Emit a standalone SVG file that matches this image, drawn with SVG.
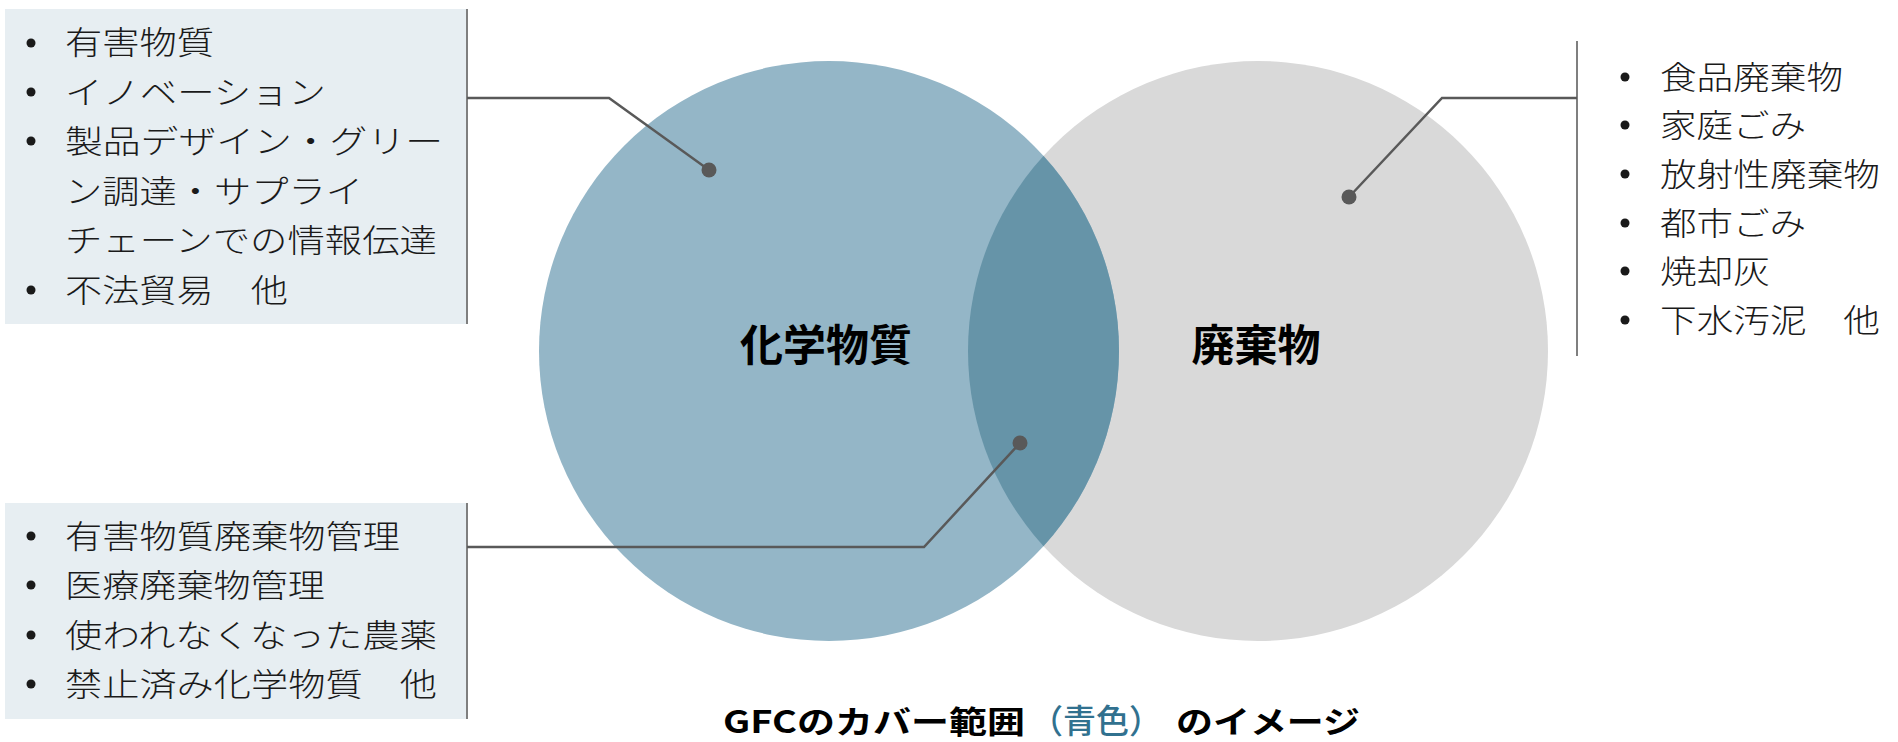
<svg xmlns="http://www.w3.org/2000/svg" width="1898" height="742" viewBox="0 0 1898 742">
<style>
.box{fill:#e7eef2}
.edge{stroke:#7f7f7f;stroke-width:2;fill:none}
.conn{stroke:#595959;stroke-width:2.5;fill:none}
.dot{fill:#595959}
.bul{fill:#1a1a1a}
.li{font-family:"Noto Sans CJK JP","Noto Sans",sans-serif;font-size:32px;fill:#1a1a1a;font-weight:300}
.lbl{font-family:"Noto Sans CJK JP","Noto Sans",sans-serif;font-size:43px;font-weight:bold;fill:#000;text-anchor:middle}
.cap{font-family:"Noto Sans CJK JP","Noto Sans",sans-serif;font-size:31px;font-weight:bold;fill:#000}
.capb{font-family:"Noto Sans CJK JP","Noto Sans",sans-serif;font-size:33px;font-weight:500;fill:#31718f;text-anchor:middle}
</style>
<defs>
<clipPath id="clipLeft"><circle cx="829" cy="351" r="290"/></clipPath>
</defs>
<g id="circle-waste">
<circle cx="1258" cy="351" r="290" fill="#d9d9d9"/>
</g>
<g id="circle-chem">
<circle cx="829" cy="351" r="290" fill="#94b6c7"/>
</g>
<g id="overlap">
<circle cx="1258" cy="351" r="290" fill="#6694a8" clip-path="url(#clipLeft)"/>
</g>
<g id="label-chem"><text class="lbl" x="826" y="361">化学物質</text></g>
<g id="label-waste"><text class="lbl" x="1256" y="361">廃棄物</text></g>

<g id="list-chem">
<rect class="box" x="5" y="9" width="462" height="315"/>
<line class="edge" x1="467" y1="9" x2="467" y2="324"/>
<circle class="bul" cx="31" cy="43" r="4.5"/>
<circle class="bul" cx="31" cy="92" r="4.5"/>
<circle class="bul" cx="31" cy="141" r="4.5"/>
<circle class="bul" cx="31" cy="290" r="4.5"/>
<text class="li" x="65" y="54" textLength="149" lengthAdjust="spacingAndGlyphs">有害物質</text>
<text class="li" x="65" y="104" textLength="261" lengthAdjust="spacingAndGlyphs">イノベーション</text>
<text class="li" x="65" y="153" textLength="378" lengthAdjust="spacingAndGlyphs">製品デザイン・グリー</text>
<text class="li" x="65" y="203" textLength="298" lengthAdjust="spacingAndGlyphs">ン調達・サプライ</text>
<text class="li" x="65" y="252" textLength="372" lengthAdjust="spacingAndGlyphs">チェーンでの情報伝達</text>
<text class="li" x="65" y="302" textLength="223" lengthAdjust="spacingAndGlyphs">不法貿易　他</text>
</g>

<g id="list-waste">
<line class="edge" x1="1577" y1="41" x2="1577" y2="356"/>
<circle class="bul" cx="1625" cy="77" r="4.5"/>
<circle class="bul" cx="1625" cy="125" r="4.5"/>
<circle class="bul" cx="1625" cy="174" r="4.5"/>
<circle class="bul" cx="1625" cy="223" r="4.5"/>
<circle class="bul" cx="1625" cy="271" r="4.5"/>
<circle class="bul" cx="1625" cy="320" r="4.5"/>
<text class="li" x="1660" y="89" textLength="183" lengthAdjust="spacingAndGlyphs">食品廃棄物</text>
<text class="li" x="1660" y="137" textLength="146" lengthAdjust="spacingAndGlyphs">家庭ごみ</text>
<text class="li" x="1660" y="186" textLength="220" lengthAdjust="spacingAndGlyphs">放射性廃棄物</text>
<text class="li" x="1660" y="235" textLength="146" lengthAdjust="spacingAndGlyphs">都市ごみ</text>
<text class="li" x="1660" y="283" textLength="110" lengthAdjust="spacingAndGlyphs">焼却灰</text>
<text class="li" x="1660" y="332" textLength="220" lengthAdjust="spacingAndGlyphs">下水汚泥　他</text>
</g>

<g id="list-overlap">
<rect class="box" x="5" y="503" width="462" height="216"/>
<line class="edge" x1="467" y1="503" x2="467" y2="719"/>
<circle class="bul" cx="31" cy="536" r="4.5"/>
<circle class="bul" cx="31" cy="585" r="4.5"/>
<circle class="bul" cx="31" cy="635" r="4.5"/>
<circle class="bul" cx="31" cy="684" r="4.5"/>
<text class="li" x="65" y="548" textLength="335" lengthAdjust="spacingAndGlyphs">有害物質廃棄物管理</text>
<text class="li" x="65" y="597" textLength="260" lengthAdjust="spacingAndGlyphs">医療廃棄物管理</text>
<text class="li" x="65" y="647" textLength="372" lengthAdjust="spacingAndGlyphs">使われなくなった農薬</text>
<text class="li" x="65" y="696" textLength="372" lengthAdjust="spacingAndGlyphs">禁止済み化学物質　他</text>
</g>

<g id="connectors">
<polyline class="conn" points="467,98 609,98 709,170"/>
<circle class="dot" cx="709" cy="170" r="7.5"/>
<polyline class="conn" points="1577,98 1442,98 1349,197"/>
<circle class="dot" cx="1349" cy="197" r="7.5"/>
<polyline class="conn" points="467,547 924,547 1020,443"/>
<circle class="dot" cx="1020" cy="443" r="7.5"/>
</g>

<g id="caption">
<text class="cap" x="723" y="733" textLength="302" lengthAdjust="spacingAndGlyphs">GFCのカバー範囲</text>
<text class="capb" x="1096" y="733">（青色）</text>
<text class="cap" x="1176" y="733" textLength="184" lengthAdjust="spacingAndGlyphs">のイメージ</text>
</g>
</svg>
